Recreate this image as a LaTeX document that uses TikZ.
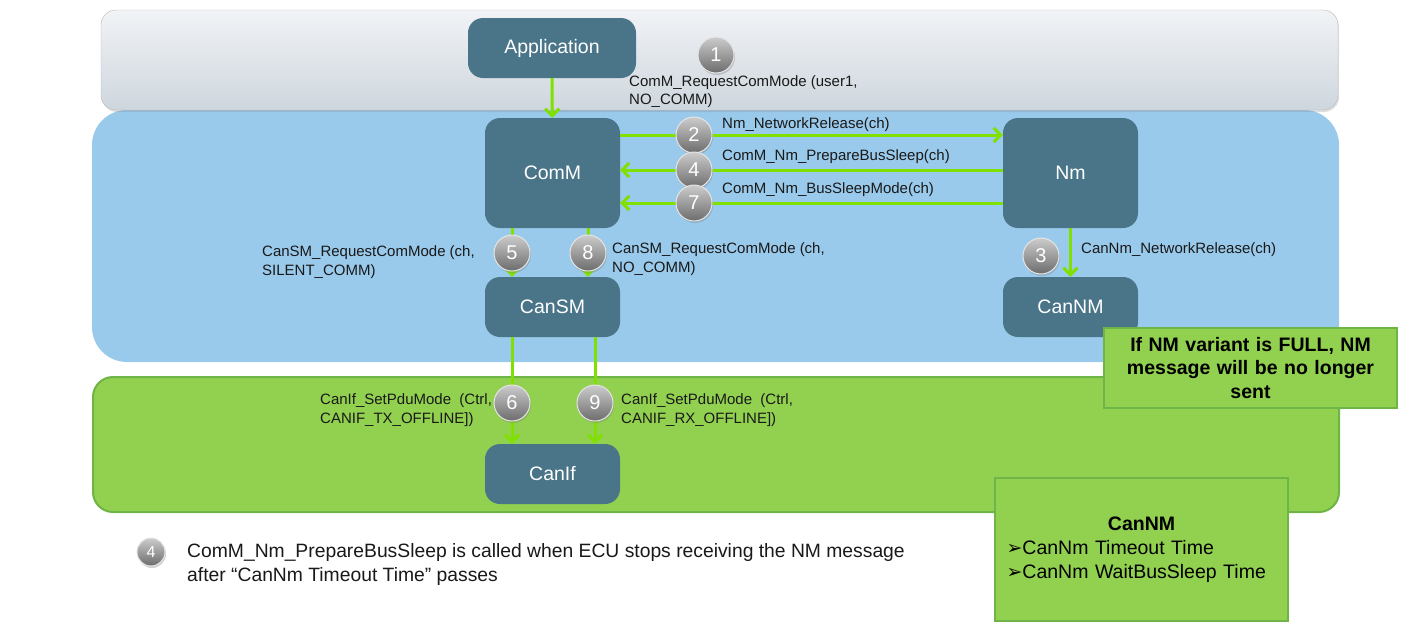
\documentclass[tikz,border=0pt]{standalone}
\usepackage{fontspec}
\setmainfont{Liberation Sans}
\newfontfamily\dingfont{DejaVu Sans}
\usepackage{tikz}
\usetikzlibrary{shapes,arrows,arrows.meta,positioning,calc,shadows}
\definecolor{modblue}{RGB}{74,117,137}
\definecolor{callgreen}{RGB}{128,224,0}
\definecolor{layerblue}{RGB}{154,202,235}
\definecolor{layergreen}{RGB}{146,208,80}
\definecolor{greenedge}{RGB}{110,180,70}
\definecolor{graytop}{RGB}{241,243,246}
\definecolor{graybot}{RGB}{206,214,221}
\tikzstyle{module} = [rectangle, fill=modblue, text=white, rounded corners=15pt, minimum width=135pt, inner sep=0pt, font=\fontsize{19.5}{22}\selectfont]
\tikzstyle{stepnum} = [circle, top color=gray!40, bottom color=gray!85!black, draw=white!80!gray, line width=1pt, text=white, minimum size=36pt, inner sep=0pt, font=\fontsize{20}{20}\selectfont, drop shadow={opacity=0.35, shadow xshift=1pt, shadow yshift=-2pt}]
\tikzstyle{call} = [draw=callgreen, line width=3pt, ->]
\tikzstyle{calltext} = [anchor=west, align=left, inner sep=0pt, text=black!90, font=\fontsize{15}{18.5}\selectfont]
\tikzstyle{notebox} = [rectangle, fill=layergreen, draw=greenedge, line width=2pt, inner sep=0pt, font=\fontsize{19.5}{23.5}\selectfont]

\begin{document}
\begin{tikzpicture}[x=1pt, y=-1pt, auto, >={Straight Barb[length=7pt, width=14pt]}]
    \useasboundingbox[fill=white] (0,0) rectangle (1419,627);
    % layers
    \fill[layerblue, rounded corners=35pt] (92,110) rectangle (1339,362);
    \draw[fill=layergreen, draw=greenedge, line width=2pt, rounded corners=20pt] (93,377) rectangle (1339,512);
    \draw[top color=graytop, bottom color=graybot, draw=gray!55, rounded corners=15pt, drop shadow={opacity=0.25, shadow xshift=1pt, shadow yshift=-2pt}] (101,10) rectangle (1338,110);

    % modules
    \node[module, minimum width=168pt, minimum height=60pt] (app) at (552,48) {Application};
    \node[module, minimum height=110pt] (comm) at (552.5,173) {ComM};
    \node[module, minimum height=110pt] (nm) at (1070.5,173) {Nm};
    \node[module, minimum height=60pt] (cansm) at (552.5,307) {CanSM};
    \node[module, minimum height=60pt] (cannm) at (1070.5,307) {CanNM};
    \node[module, minimum height=60pt] (canif) at (552.5,474) {CanIf};

    % calls
    \draw[call] (app) -- (comm);
    \draw[call] ([yshift=38pt]comm.east) -- ([yshift=38pt]nm.west);
    \draw[call] ([yshift=3pt]nm.west) -- ([yshift=3pt]comm.east);
    \draw[call] ([yshift=-30pt]nm.west) -- ([yshift=-30pt]comm.east);
    \draw[call] (nm) -- (cannm);
    \draw[call] ([xshift=-40.5pt]comm.south) -- ([xshift=-40.5pt]cansm.north);
    \draw[call] ([xshift=35.5pt]comm.south) -- ([xshift=35.5pt]cansm.north);
    \draw[call] ([xshift=-40.5pt]cansm.south) -- ([xshift=-40.5pt]canif.north);
    \draw[call] ([xshift=42.5pt]cansm.south) -- ([xshift=42.5pt]canif.north);

    % steps
    \node[stepnum] (s1) at (716,55) {1};
    \node[stepnum] (s2) at (694,135) {2};
    \node[stepnum] (s4) at (694,170) {4};
    \node[stepnum] (s7) at (694,203) {7};
    \node[stepnum] (s3) at (1041,256) {3};
    \node[stepnum] (s5) at (512,253) {5};
    \node[stepnum] (s8) at (588,253) {8};
    \node[stepnum] (s6) at (512,403) {6};
    \node[stepnum] (s9) at (595,403) {9};

    \node[calltext] (t1) at (629,91.5) {ComM\_RequestComMode (user1,\\NO\_COMM)};
    \node[calltext] (t2) at (722,125) {Nm\_NetworkRelease(ch)};
    \node[calltext] (t4) at (722,157) {ComM\_Nm\_PrepareBusSleep(ch)};
    \node[calltext] (t7) at (722,190) {ComM\_Nm\_BusSleepMode(ch)};
    \node[calltext] (t3) at (1081,250) {CanNm\_NetworkRelease(ch)};
    \node[calltext] (t5) at (262,262) {CanSM\_RequestComMode (ch,\\SILENT\_COMM)};
    \node[calltext] (t8) at (612,259) {CanSM\_RequestComMode (ch,\\NO\_COMM)};
    \node[calltext] (t6) at (320,410) {CanIf\_SetPduMode\ \ (Ctrl,\\CANIF\_TX\_OFFLINE])};
    \node[calltext] (t9) at (621,410) {CanIf\_SetPduMode\ \ (Ctrl,\\CANIF\_RX\_OFFLINE])};

    % notes
    \node[notebox, minimum width=293pt, minimum height=80pt, text width=285pt, align=center] (fullnote) at (1250.5,368) {\textbf{If NM variant is FULL, NM}\\\textbf{message will be no longer}\\\textbf{sent}};
    \node[notebox, minimum width=293pt, minimum height=143pt, text width=270pt, align=left, font=\fontsize{19.5}{24}\selectfont] (timers) at (1141.5,549.5) {\makebox[270pt]{\textbf{CanNM}}\\{\dingfont\fontsize{19}{19}\selectfont ➢}CanNm Timeout Time\\{\dingfont\fontsize{19}{19}\selectfont ➢}CanNm WaitBusSleep Time};

    % legend
    \node[stepnum, minimum size=28pt, font=\fontsize{16}{16}\selectfont] (legend4) at (151,552) {4};
    \node[calltext, font=\fontsize{19.3}{24}\selectfont] (legendtext) at (187,565) {ComM\_Nm\_PrepareBusSleep is called when ECU stops receiving the NM message\\after “CanNm Timeout Time” passes};
\end{tikzpicture}
\end{document}
